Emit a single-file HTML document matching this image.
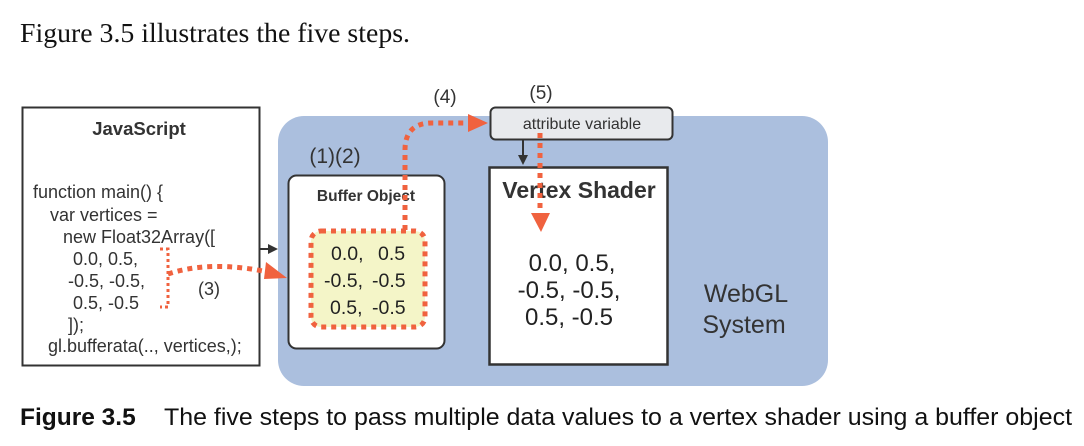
<!DOCTYPE html>
<html><head><style>
body{margin:0;background:#fff;width:1084px;height:441px;overflow:hidden}
</style></head><body>
<svg width="1084" height="441" xmlns="http://www.w3.org/2000/svg" font-family="Liberation Sans, sans-serif">
<text x="20" y="42" font-family="Liberation Serif, serif" font-size="27" fill="#111" textLength="390" lengthAdjust="spacingAndGlyphs">Figure 3.5 illustrates the five steps.</text>
<rect x="278" y="116" width="550" height="270" rx="26" fill="#abbfde"/>
<rect x="22.5" y="107.5" width="237" height="258" fill="#fff" stroke="#333" stroke-width="2"/>
<text x="139" y="135" font-size="18.5" font-weight="bold" text-anchor="middle" fill="#333">JavaScript</text>
<g font-size="18" fill="#333">
<text x="33" y="198">function main() {</text>
<text x="50" y="221">var vertices =</text>
<text x="63" y="243">new Float32Array([</text>
<text x="73" y="265">0.0, 0.5,</text>
<text x="68" y="287">-0.5, -0.5,</text>
<text x="73" y="309">0.5, -0.5</text>
<text x="68" y="331">]);</text>
<text x="48" y="352">gl.bufferata(.., vertices,);</text>
</g>
<text x="209" y="295" font-size="18" text-anchor="middle" fill="#333">(3)</text>
<line x1="260" y1="249" x2="270" y2="249" stroke="#333" stroke-width="2"/>
<polygon points="268,244 278,249 268,254" fill="#333"/>
<path d="M160 249 H168 V307 H160" fill="none" stroke="#f0623f" stroke-width="3" stroke-dasharray="3 3"/>
<path d="M168 274 Q210 260 268 272" fill="none" stroke="#f0623f" stroke-width="5" stroke-dasharray="5 5"/>
<polygon points="266,262 287,278 264,279" fill="#f0623f"/>
<text x="335" y="163" font-size="21" text-anchor="middle" fill="#333">(1)(2)</text>
<rect x="288.5" y="175.5" width="156" height="173" rx="8" fill="#fff" stroke="#333" stroke-width="2"/>
<text x="366" y="201" font-size="15.5" font-weight="bold" text-anchor="middle" fill="#333">Buffer Object</text>
<rect x="311" y="231" width="114" height="96" rx="10" fill="#f4f5c8" stroke="#f0623f" stroke-width="5" stroke-dasharray="5 5"/>
<g font-size="19.5" fill="#222">
<text x="331" y="260">0.0,</text><text x="378" y="260">0.5</text>
<text x="324" y="287">-0.5,</text><text x="372" y="287">-0.5</text>
<text x="330" y="314">0.5,</text><text x="372" y="314">-0.5</text>
</g>
<text x="445" y="103" font-size="19" text-anchor="middle" fill="#333">(4)</text>
<path d="M405 230 V150 Q405 123 432 123 H470" fill="none" stroke="#f0623f" stroke-width="5" stroke-dasharray="5 5"/>
<polygon points="468,114 488,123 468,132" fill="#f0623f"/>
<text x="541" y="99" font-size="19" text-anchor="middle" fill="#333">(5)</text>
<rect x="490.5" y="107.5" width="182" height="32" rx="5" fill="#e8eaed" stroke="#333" stroke-width="2"/>
<text x="582" y="129" font-size="16" text-anchor="middle" fill="#333">attribute variable</text>
<line x1="523" y1="140" x2="523" y2="157" stroke="#333" stroke-width="2"/>
<polygon points="518,155 523,165 528,155" fill="#333"/>
<rect x="489.5" y="167.5" width="178" height="197" fill="#fff" stroke="#333" stroke-width="2.5"/>
<text x="579" y="198" font-size="23" font-weight="bold" text-anchor="middle" fill="#333">Vertex Shader</text>
<path d="M540 133 V210" fill="none" stroke="#f0623f" stroke-width="5" stroke-dasharray="5 5"/>
<polygon points="531,213 550,213 541,232" fill="#f0623f"/>
<g font-size="24" fill="#222" text-anchor="middle">
<text x="572" y="271">0.0,  0.5,</text>
<text x="569" y="298">-0.5, -0.5,</text>
<text x="569" y="325">0.5, -0.5</text>
</g>
<text x="746" y="302" font-size="25" text-anchor="middle" fill="#333">WebGL</text>
<text x="744" y="333" font-size="25" text-anchor="middle" fill="#333">System</text>
<text x="20" y="425" font-size="24.5" font-weight="bold" fill="#111">Figure 3.5</text>
<text x="164" y="425" font-size="24" fill="#111" textLength="908" lengthAdjust="spacingAndGlyphs">The five steps to pass multiple data values to a vertex shader using a buffer object</text>
</svg>
</body></html>
